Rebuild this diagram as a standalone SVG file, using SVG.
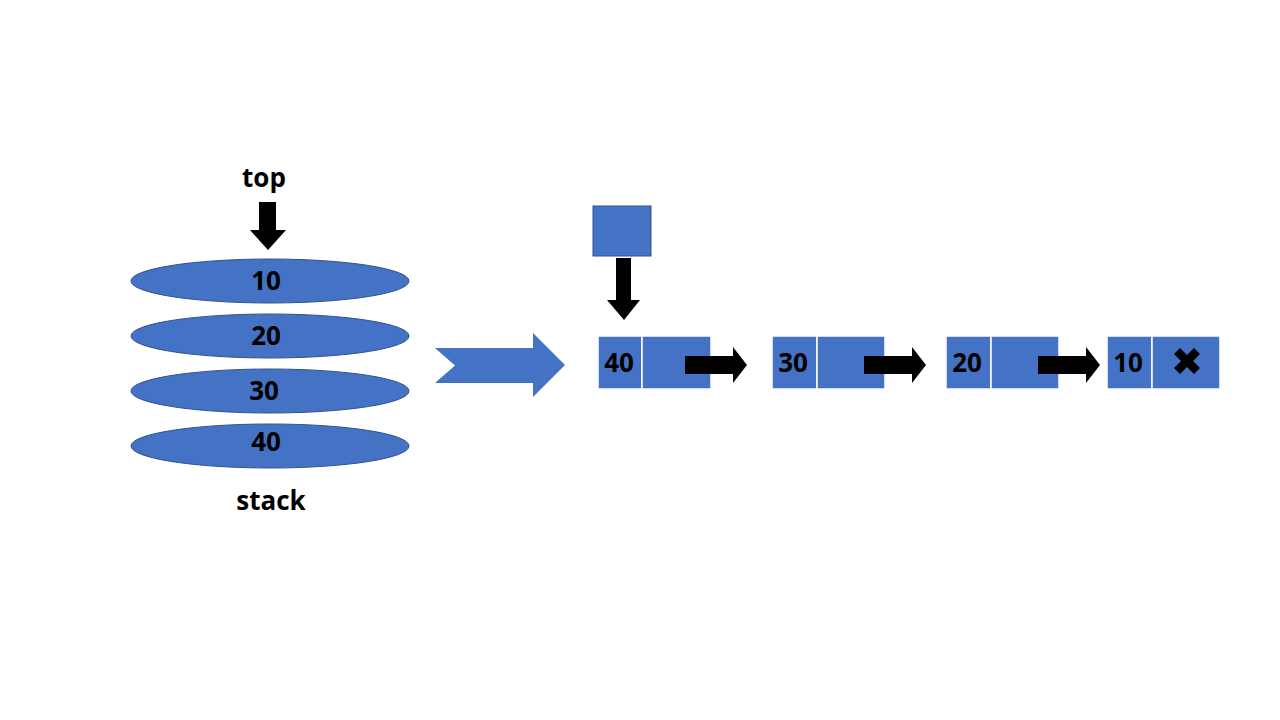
<svg xmlns="http://www.w3.org/2000/svg" width="1280" height="720" viewBox="0 0 1280 720">
<style>
.b{fill:#4472c4;stroke:#2f528f;stroke-width:1}
.n{fill:#4472c4;stroke:#fff;stroke-width:1.5}
.t{font-family:"Open Sans","Liberation Sans",sans-serif;font-weight:bold;font-size:26px;fill:#000;text-anchor:middle}
.k{fill:#000}
</style>
<rect width="1280" height="720" fill="#fff"/>
<g id="stack">
<ellipse class="b" cx="270" cy="281" rx="139" ry="22"/>
<ellipse class="b" cx="270" cy="336" rx="139" ry="22"/>
<ellipse class="b" cx="270" cy="391" rx="139" ry="22"/>
<ellipse class="b" cx="270" cy="446" rx="139" ry="22"/>
<text class="t" x="266" y="290">10</text>
<text class="t" x="266" y="345">20</text>
<text class="t" x="264" y="400">30</text>
<text class="t" x="266" y="451">40</text>
<text class="t" x="271" y="510">stack</text>
<text class="t" x="264" y="187">top</text>
</g>
<g id="head"><rect class="b" x="593" y="206" width="58" height="50"/></g>
<g id="n40"><rect class="n" x="598" y="336" width="44" height="53"/><rect class="n" x="642" y="336" width="69" height="53"/><text class="t" x="619" y="372">40</text></g>
<g id="n30"><rect class="n" x="772" y="336" width="45" height="53"/><rect class="n" x="817" y="336" width="68" height="53"/><text class="t" x="793" y="372">30</text></g>
<g id="n20"><rect class="n" x="946" y="336" width="45" height="53"/><rect class="n" x="991" y="336" width="68" height="53"/><text class="t" x="967" y="372">20</text></g>
<g id="n10"><rect class="n" x="1107" y="336" width="45" height="53"/><rect class="n" x="1152" y="336" width="68" height="53"/><text class="t" x="1128" y="372">10</text>
<path class="k" d="M1174,354 L1180,348 L1187,355 L1194,348 L1200,354 L1193,361 L1200,368 L1194,374 L1187,367 L1180,374 L1174,368 L1181,361 Z"/></g>
<g id="connectors">
<path class="k" d="M259,202 H276 V230 H286 L268,250 L250,230 H259 Z"/>
<path class="k" d="M616,258 H631 V300 H640 L624,320 L607,300 H616 Z"/>
<path class="k" d="M685,356 H733 V347 L747,365 L733,383 V374 H685 Z"/>
<path class="k" d="M864,356 H912 V347 L926,365 L912,383 V374 H864 Z"/>
<path class="k" d="M1038,356 H1086 V347 L1100,365 L1086,383 V374 H1038 Z"/>
<path fill="#4472c4" d="M435,348 H533 V333 L565,365 L533,397 V383 H435 L455,365.5 Z"/>
</g>
</svg>
